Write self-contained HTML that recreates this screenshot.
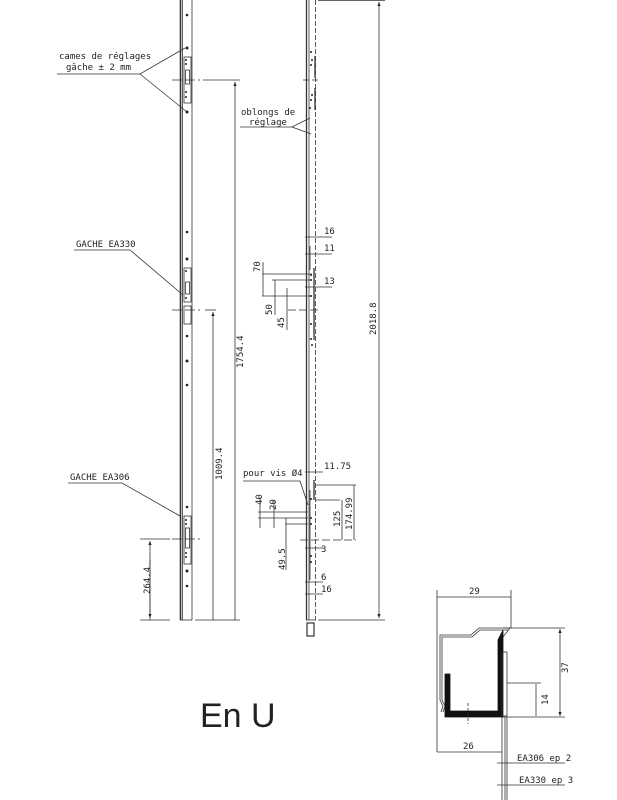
<!DOCTYPE html>
<html><head><meta charset="utf-8"><style>
html,body{margin:0;padding:0;background:#fff}
svg{display:block}
text{font-family:"DejaVu Sans Mono","Liberation Mono",monospace;font-size:9px;fill:#222}
</style></head><body>
<svg width="617" height="800" viewBox="0 0 617 800" xmlns="http://www.w3.org/2000/svg">
<defs><marker id="a" markerWidth="6" markerHeight="6" refX="5" refY="3" orient="auto"><path d="M0,1 L5,3 L0,5 z" fill="#222"/></marker></defs>
<g stroke="#333" fill="none" stroke-width="0.8">
<line x1="180.5" y1="0" x2="180.5" y2="620" stroke-width="1.6"/>
<line x1="182.5" y1="0" x2="182.5" y2="620"/>
<line x1="192" y1="0" x2="192" y2="620"/>
<line x1="180" y1="620" x2="192" y2="620"/>
<rect x="184" y="57" width="7" height="46"/><rect x="185.5" y="70" width="4" height="14"/>
<rect x="184" y="268" width="7" height="34"/><rect x="185.5" y="282" width="4" height="12"/>
<rect x="184" y="306" width="7" height="18"/>
<rect x="184" y="516" width="7" height="48"/><rect x="185.5" y="528" width="4" height="20"/>
<g stroke-dasharray="10,3"><line x1="172" y1="80" x2="200" y2="80"/><line x1="172" y1="310" x2="200" y2="310"/><line x1="172" y1="539" x2="200" y2="539"/></g>
<line x1="203" y1="80" x2="240" y2="80"/><line x1="235" y1="620" x2="235" y2="82" marker-end="url(#a)"/>
<line x1="205" y1="310" x2="216" y2="310"/><line x1="213" y1="620" x2="213" y2="312" marker-end="url(#a)"/>
<line x1="140" y1="539" x2="170" y2="539"/><line x1="150" y1="620" x2="150" y2="541" marker-end="url(#a)"/><line x1="150" y1="560" x2="150" y2="618" marker-end="url(#a)"/>
<line x1="140" y1="620" x2="170" y2="620"/><line x1="195" y1="620" x2="240" y2="620"/>
<polyline points="57,74 140,74 185,48"/><line x1="140" y1="74" x2="187" y2="112"/>
<polyline points="74,250 130,250 183,295"/>
<polyline points="68,483 122,483 180,516"/>
<line x1="306.5" y1="0" x2="306.5" y2="620" stroke-width="1.3"/>
<line x1="309" y1="0" x2="309" y2="620"/>
<line x1="315.5" y1="0" x2="315.5" y2="620" stroke-dasharray="5,2"/>
<line x1="306" y1="620" x2="316" y2="620"/>
<line x1="315" y1="56" x2="315" y2="78" stroke-width="1.3"/><line x1="315" y1="88" x2="315" y2="110" stroke-width="1.3"/>
<line x1="314" y1="268" x2="314" y2="340" stroke-width="1.3"/><line x1="310" y1="246" x2="310" y2="270"/>
<line x1="314" y1="480" x2="314" y2="500" stroke-width="1.3"/><line x1="310" y1="490" x2="310" y2="580"/>
<line x1="303" y1="80" x2="320" y2="80" stroke-dasharray="6,3"/>
<rect x="307" y="623" width="7" height="13" stroke-width="1.2"/>
<line x1="318" y1="0.5" x2="385" y2="0.5"/><line x1="318" y1="620" x2="385" y2="620"/>
<line x1="379" y1="20" x2="379" y2="2" marker-end="url(#a)"/><line x1="379" y1="20" x2="379" y2="618" marker-end="url(#a)"/>
<polyline points="240,127 292,127 310,118"/><line x1="292" y1="127" x2="311" y2="134"/>
<line x1="305" y1="237" x2="332" y2="237"/><line x1="305" y1="254" x2="332" y2="254"/><line x1="305" y1="287" x2="332" y2="287"/>
<line x1="262" y1="274" x2="312" y2="274"/><line x1="272" y1="280" x2="312" y2="280"/><line x1="262" y1="296" x2="312" y2="296"/>
<line x1="288" y1="310" x2="320" y2="310" stroke-dasharray="8,3"/>
<line x1="263" y1="262" x2="263" y2="296"/><line x1="275" y1="280" x2="275" y2="315"/><line x1="287" y1="288" x2="287" y2="330"/>
<polyline points="243,481 300,481 308,505"/>
<line x1="305" y1="472" x2="323" y2="472"/>
<line x1="316" y1="485" x2="356" y2="485"/><line x1="316" y1="500" x2="340" y2="500"/><line x1="300" y1="540" x2="356" y2="540" stroke-dasharray="8,3"/>
<line x1="354" y1="485" x2="354" y2="540"/><line x1="342" y1="500" x2="342" y2="540"/>
<line x1="258" y1="512" x2="308" y2="512"/><line x1="258" y1="518" x2="308" y2="518"/><line x1="285" y1="524" x2="308" y2="524"/>
<line x1="260" y1="497" x2="260" y2="528"/><line x1="274" y1="500" x2="274" y2="528"/><line x1="286" y1="518" x2="286" y2="570"/>
<line x1="305" y1="548" x2="323" y2="548"/><line x1="305" y1="582" x2="323" y2="582"/><line x1="305" y1="594" x2="323" y2="594"/>
<line x1="437" y1="590" x2="437" y2="752"/><line x1="511" y1="590" x2="511" y2="628"/>
<line x1="437" y1="597" x2="511" y2="597"/>
<path d="M441,712 L443,706 L440,700 L440,635 L471,635 L479,628 L510,628 L503,637"/>
<path d="M443,712 L445,706 L442,700 L442,637 L472,637 L480,630 L508,630"/>
<path d="M445,674 L450,674 L450,711 L498,711 L498,640 L503,630 L503,717 L445,717 Z" fill="#111" stroke="#111"/>
<rect x="502" y="652" width="5" height="64"/>
<line x1="468" y1="703" x2="468" y2="724" stroke-dasharray="3,2"/>
<line x1="503" y1="628" x2="565" y2="628"/><line x1="503" y1="717" x2="565" y2="717"/><line x1="507" y1="683" x2="541" y2="683"/>
<line x1="560" y1="640" x2="560" y2="629" marker-end="url(#a)"/><line x1="560" y1="700" x2="560" y2="716" marker-end="url(#a)"/><line x1="560" y1="640" x2="560" y2="700"/>
<line x1="536" y1="684" x2="536" y2="716"/>
<line x1="502" y1="717" x2="502" y2="800"/><line x1="505" y1="717" x2="505" y2="800"/><line x1="507" y1="717" x2="507" y2="800"/>
<line x1="437" y1="752" x2="502" y2="752"/>
<line x1="497" y1="763" x2="565" y2="763"/><line x1="497" y1="785" x2="565" y2="785"/>
</g>
<text x="59" y="59">cames de réglages</text><text x="66" y="70">gâche  ± 2 mm</text>
<text x="76" y="247">GACHE EA330</text>
<text x="70" y="480">GACHE EA306</text>
<text x="241" y="115">oblongs de</text><text x="249" y="125">réglage</text>
<text x="324" y="234">16</text><text x="324" y="251">11</text><text x="324" y="284">13</text>
<text x="324" y="469">11.75</text><text x="243" y="476">pour vis Ø4</text>
<text x="321" y="552">3</text><text x="321" y="580">6</text><text x="321" y="592">16</text>
<text x="469" y="594">29</text><text x="568" y="673" transform="rotate(-90 568 673)">37</text>
<text x="548" y="705" transform="rotate(-90 548 705)">14</text>
<text x="463" y="749">26</text><text x="517" y="761">EA306 ep 2</text><text x="519" y="783">EA330 ep 3</text>
<g>
<text transform="translate(243,368) rotate(-90)">1754.4</text>
<text transform="translate(222,480) rotate(-90)">1009.4</text>
<text transform="translate(150,594) rotate(-90)">264.4</text>
<text transform="translate(376,335) rotate(-90)">2018.8</text>
<text transform="translate(260,272) rotate(-90)">70</text>
<text transform="translate(272,315) rotate(-90)">50</text>
<text transform="translate(284,328) rotate(-90)">45</text>
<text transform="translate(262,505) rotate(-90)">40</text>
<text transform="translate(276,510) rotate(-90)">20</text>
<text transform="translate(340,527) rotate(-90)">125</text>
<text transform="translate(352,530) rotate(-90)">174.99</text>
<text transform="translate(285,570) rotate(-90)">49.5</text>
</g>
<g fill="#222">
<circle cx="187" cy="15" r="1.3"/><circle cx="187" cy="48" r="1.5"/><circle cx="186" cy="60" r="1"/><circle cx="186" cy="64" r="1"/><circle cx="186" cy="92" r="1"/><circle cx="186" cy="97" r="1"/><circle cx="187" cy="112" r="1.5"/>
<circle cx="187" cy="232" r="1.3"/><circle cx="187" cy="259" r="1.5"/><circle cx="186" cy="271" r="1"/><circle cx="186" cy="298" r="1"/><circle cx="187" cy="336" r="1.3"/><circle cx="187" cy="361" r="1.5"/><circle cx="187" cy="385" r="1.3"/>
<circle cx="187" cy="507" r="1.3"/><circle cx="186" cy="520" r="1"/><circle cx="186" cy="524" r="1"/><circle cx="186" cy="553" r="1"/><circle cx="186" cy="557" r="1"/><circle cx="187" cy="571" r="1.5"/><circle cx="187" cy="586" r="1.3"/>
<circle cx="311" cy="52" r="1"/><circle cx="312" cy="60" r="1"/><circle cx="311" cy="65" r="1"/><circle cx="312" cy="95" r="1"/><circle cx="311" cy="100" r="1"/><circle cx="310" cy="108" r="1"/>
<circle cx="311" cy="275" r="1"/><circle cx="311" cy="280" r="1"/><circle cx="311" cy="296" r="1"/><circle cx="311" cy="324" r="1"/><circle cx="311" cy="339" r="1"/><circle cx="312" cy="345" r="1"/>
<circle cx="311" cy="499" r="1"/><circle cx="311" cy="518" r="1"/><circle cx="311" cy="524" r="1"/><circle cx="311" cy="556" r="1"/><circle cx="311" cy="562" r="1"/>
</g>
<text x="200" y="727" style="font-family:'Liberation Sans',sans-serif;font-size:34px">En U</text>
</svg>
</body></html>
